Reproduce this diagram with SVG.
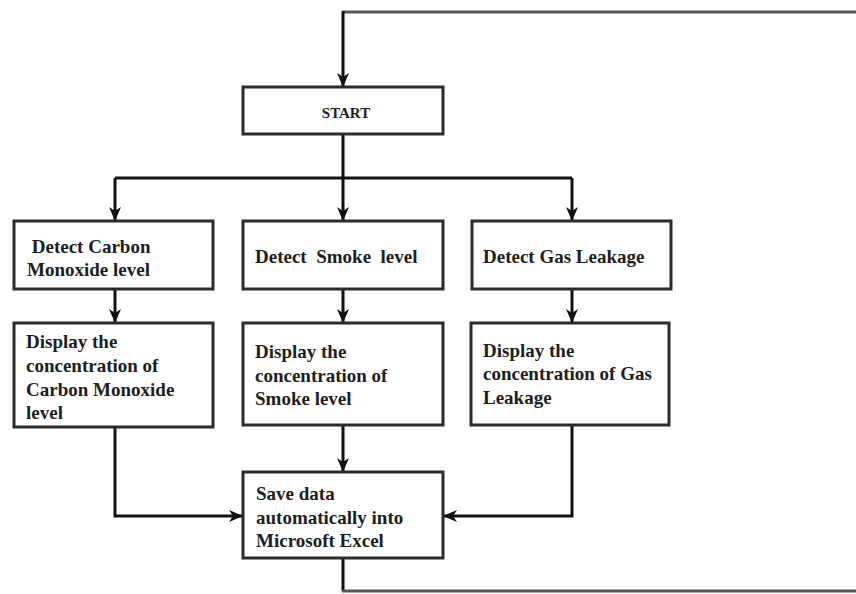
<svg xmlns="http://www.w3.org/2000/svg" width="856" height="594" viewBox="0 0 856 594">
<style>
.box{fill:#fff;stroke:#2b2b2b;stroke-width:3}
.t{font-family:"Liberation Serif","Times New Roman",serif;font-weight:bold;font-size:19px;fill:#1e1e1e}
.s{font-size:15px}
.c{fill:none;stroke:#111;stroke-width:3;stroke-linejoin:miter}
.loop{fill:none;stroke:#555;stroke-width:3}
</style>
<defs>
<marker id="ah" viewBox="0 0 14 12" refX="14" refY="6" markerWidth="14" markerHeight="12" markerUnits="userSpaceOnUse" orient="auto">
<path d="M0,0 L14,6 L0,12 L4,6 z" fill="#111"/>
</marker>
</defs>
<g id="connectors">
<path class="loop" d="M856,12 L343,12"/>
<path class="c" d="M343,11 L343,87" marker-end="url(#ah)"/>
<path class="c" d="M343,134 L343,178"/>
<path class="c" d="M115,178 L572,178"/>
<path class="c" d="M115,178 L115,221" marker-end="url(#ah)"/>
<path class="c" d="M343,178 L343,221" marker-end="url(#ah)"/>
<path class="c" d="M572,178 L572,221" marker-end="url(#ah)"/>
<path class="c" d="M115,289 L115,323" marker-end="url(#ah)"/>
<path class="c" d="M343,289 L343,323" marker-end="url(#ah)"/>
<path class="c" d="M572,289 L572,323" marker-end="url(#ah)"/>
<path class="c" d="M343,425 L343,472" marker-end="url(#ah)"/>
<path class="c" d="M115,427 L115,516 L243,516" marker-end="url(#ah)"/>
<path class="c" d="M572,425 L572,516 L443,516" marker-end="url(#ah)"/>
<path class="c" d="M343,558 L343,591"/>
<path class="loop" d="M342,591 L856,591"/>
</g>
<g id="start">
<rect class="box" x="243" y="87" width="200" height="47"/>
<text class="t s" x="346" y="118" text-anchor="middle">START</text>
</g>
<g id="detect-co">
<rect class="box" x="14" y="221" width="199" height="68"/>
<text class="t" x="27" y="253" xml:space="preserve"> Detect Carbon</text>
<text class="t" x="27" y="276">Monoxide level</text>
</g>
<g id="detect-smoke">
<rect class="box" x="243" y="221" width="200" height="68"/>
<text class="t" x="255" y="263" xml:space="preserve">Detect  Smoke  level</text>
</g>
<g id="detect-gas">
<rect class="box" x="472" y="221" width="199" height="68"/>
<text class="t" x="483" y="263">Detect Gas Leakage</text>
</g>
<g id="display-co">
<rect class="box" x="14" y="323" width="199" height="104"/>
<text class="t" x="26" y="348">Display the</text>
<text class="t" x="26" y="372">concentration of</text>
<text class="t" x="26" y="396">Carbon Monoxide</text>
<text class="t" x="26" y="419">level</text>
</g>
<g id="display-smoke">
<rect class="box" x="243" y="323" width="200" height="102"/>
<text class="t" x="255" y="358">Display the</text>
<text class="t" x="255" y="382">concentration of</text>
<text class="t" x="255" y="405">Smoke level</text>
</g>
<g id="display-gas">
<rect class="box" x="471" y="323" width="198" height="102"/>
<text class="t" x="483" y="357">Display the</text>
<text class="t" x="483" y="380">concentration of Gas</text>
<text class="t" x="483" y="404">Leakage</text>
</g>
<g id="save">
<rect class="box" x="243" y="472" width="200" height="86"/>
<text class="t" x="256" y="500">Save data</text>
<text class="t" x="256" y="524">automatically into</text>
<text class="t" x="256" y="547">Microsoft Excel</text>
</g>
</svg>
